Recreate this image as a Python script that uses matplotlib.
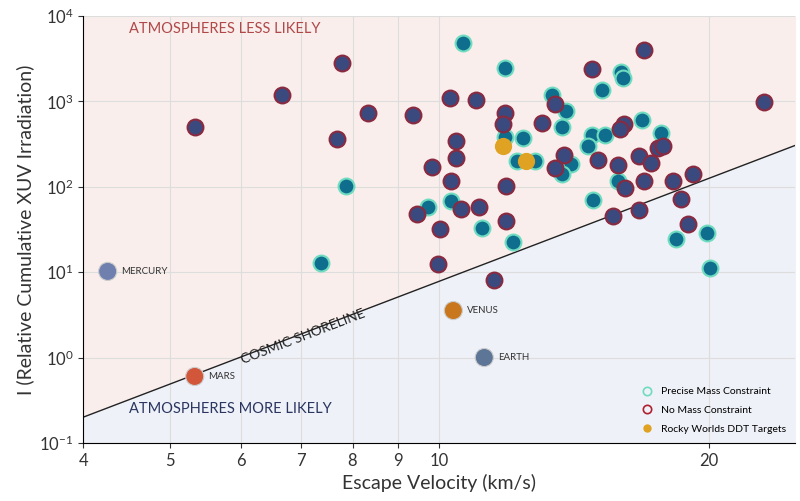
import matplotlib
matplotlib.use("Agg")
import matplotlib.pyplot as plt
import numpy as np
from matplotlib.lines import Line2D
from matplotlib.ticker import FixedLocator, NullLocator

plt.rcParams['font.family'] = ['Lato', 'DejaVu Sans']

# No mass constraint (escape velocity km/s, relative cumulative XUV)
nomass_v = [5.33, 6.67, 7.79, 8.33, 9.35, 7.69, 9.82, 10.31, 9.45, 10.58, 11.09, 10.03, 11.88, 9.97,
            11.52, 10.29, 11.0, 10.45, 10.45, 11.85, 11.79, 11.88, 13.04, 13.48, 13.80, 13.48, 15.03,
            14.83, 16.96, 23.1, 16.11, 15.94, 17.54, 17.81, 15.86, 16.74, 17.27, 16.15, 16.96, 18.27,
            19.24, 15.66, 16.74, 18.65, 18.99]
nomass_i = [507, 1202, 2845, 739, 700, 367, 172, 118, 48.5, 55.6, 58.6, 32.4, 40.2, 12.3,
            8.2, 1108, 1050, 347, 220, 739, 550, 103, 564, 942, 238, 168, 208,
            2421, 4042, 995, 550, 480, 288, 297, 182, 232, 192, 98, 118, 118,
            143, 46, 54, 72.8, 37.1]
precise_v = [7.87, 7.38, 9.72, 10.31, 11.17, 12.10, 10.64, 11.85, 15.98, 16.06, 15.22, 13.38, 13.87,
             13.73, 16.87, 17.71, 14.83, 15.34, 14.68, 11.85, 12.42, 12.23, 12.80, 14.05, 13.73,
             15.86, 14.87, 18.41, 19.90, 20.10]
precise_i = [103, 12.9, 58.6, 68.9, 33.3, 22.8, 4883, 2488, 2234, 1900, 1374, 1202, 780,
             507, 612, 431, 408, 408, 304, 387, 377, 203, 203, 187, 143,
             118, 70.8, 24.7, 29.1, 11.3]
ddt_v = [11.79, 12.51]
ddt_i = [297, 203]
planet_names = ["MERCURY", "MARS", "VENUS", "EARTH"]
planet_v = [4.26, 5.33, 10.37, 11.23]
planet_i = [10.2, 0.6, 3.55, 1.0]
planet_colors = ["#6f7fae", "#d2573a", "#c9771c", "#5d7596"]

shore_v = np.array([4.0, 25.0])
shore_i = 0.2 * (shore_v / 4.0) ** 4

fig = plt.figure(figsize=(8, 5.01), dpi=100)
ax = fig.add_axes([0.104, 0.116, 0.89, 0.852])
ax.set_xscale('log'); ax.set_yscale('log')
ax.set_xlim(4, 25); ax.set_ylim(0.1, 1e4)

ax.fill_between(shore_v, shore_i, 1e4, color='#f9eeec', zorder=0)
ax.fill_between(shore_v, 0.1, shore_i, color='#eef1f7', zorder=0)
ax.plot(shore_v, shore_i, color='#222222', lw=1.0, zorder=2)

ax.xaxis.set_major_locator(FixedLocator([4, 5, 6, 7, 8, 9, 10, 20]))
ax.set_xticklabels(['4', '5', '6', '7', '8', '9', '10', '20'])
ax.xaxis.set_minor_locator(NullLocator())
ax.yaxis.set_minor_locator(NullLocator())
ax.grid(True, color='#dddddd', lw=0.8, zorder=1)
ax.set_axisbelow(True)
for s in ['top', 'right']:
    ax.spines[s].set_visible(False)
ax.tick_params(labelsize=12, colors='#333333')

ax.scatter(precise_v, precise_i, s=130, facecolor='#0f6e8e', edgecolor='#6fdcc0', lw=1.5, zorder=3)
ax.scatter(nomass_v, nomass_i, s=130, facecolor='#3a4a7e', edgecolor='#8a2a40', lw=1.5, zorder=4)
ax.scatter(ddt_v, ddt_i, s=130, facecolor='#e0a222', edgecolor='#e0a222', lw=1.0, zorder=5)
ax.scatter(planet_v, planet_i, s=170, c=planet_colors, edgecolor='#cccccc', lw=0.8, zorder=5)
for n, v, i in zip(planet_names, planet_v, planet_i):
    ax.annotate(n, (v, i), xytext=(10, 0), textcoords='offset points', fontsize=7, va='center', color='#333333')

ax.text(0.065, 0.985, 'ATMOSPHERES LESS LIKELY', transform=ax.transAxes, color='#b04848', fontsize=10.5, va='top')
ax.text(0.065, 0.08, 'ATMOSPHERES MORE LIKELY', transform=ax.transAxes, color='#2a3560', fontsize=10.5, va='center')
ax.text(7.05, 1.75, 'COSMIC SHORELINE', rotation=21, color='#222222', fontsize=10, ha='center', va='center')

ax.set_ylabel('I (Relative Cumulative XUV Irradiation)', fontsize=14, color='#333333')
ax.set_xlabel('Escape Velocity (km/s)', fontsize=14, color='#333333')

handles = [Line2D([], [], marker='o', ls='', mfc='none', mec='#6fdcc0', ms=6, mew=1.2),
           Line2D([], [], marker='o', ls='', mfc='none', mec='#b02030', ms=6, mew=1.2),
           Line2D([], [], marker='o', ls='', mfc='#e0a222', mec='#e0a222', ms=5)]
ax.legend(handles, ['Precise Mass Constraint', 'No Mass Constraint', 'Rocky Worlds DDT Targets'],
          loc='lower right', fontsize=7.5, frameon=False, handletextpad=0.3, labelspacing=0.9)

fig.savefig('out.png', dpi=100)
